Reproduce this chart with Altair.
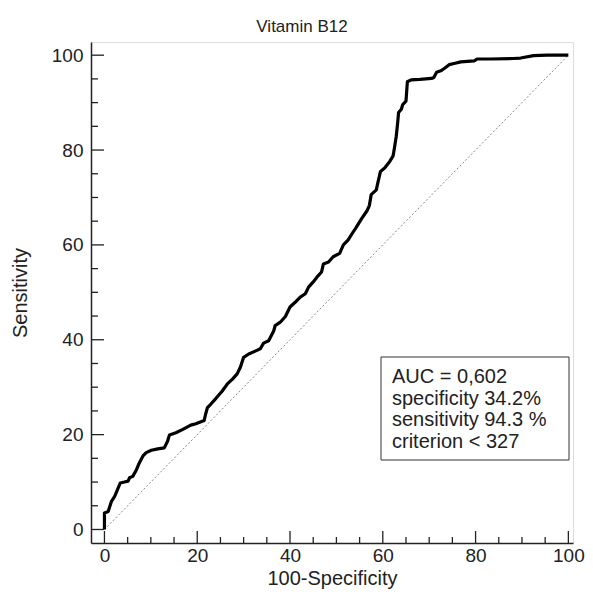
import altair as alt
import pandas as pd

# ROC curve points: 100-Specificity (x) and Sensitivity (y)
roc_x = [0, 0, 0.8, 1.5, 2.2, 2.9, 3.4, 4.3, 5.1, 5.4, 6.1, 6.9, 7.4, 8.3, 9.0, 10.1,
         11.5, 12.9, 13.6, 14.0, 15.4, 16.9, 18.6, 19.7, 21.5, 21.8, 22.2, 22.9, 24.0,
         25.4, 26.5, 27.6, 28.6, 29.3, 30.0, 31.1, 32.5, 33.6, 34.3, 35.4, 36.5, 36.8,
         37.9, 39.0, 40.0, 41.1, 42.2, 43.3, 44.0, 45.0, 45.8, 46.8, 47.2, 48.3, 49.3,
         50.7, 51.5, 52.5, 53.4, 54.2, 55.4, 56.6, 57.1, 57.5, 58.6, 59.0, 59.5, 60.4,
         61.5, 62.2, 62.5, 62.9, 63.2, 63.4, 64.0, 64.3, 65.0, 65.3, 66.1, 68.0, 70.5,
         71.0, 71.6, 72.5, 73.4, 74.3, 75.6, 76.8, 79.7, 80.4, 83.2, 88.2, 89.7, 92.5,
         95.4, 100]
roc_y = [0, 3.5, 3.8, 5.9, 7.0, 8.6, 9.8, 10.0, 10.2, 10.9, 11.2, 12.6, 13.8, 15.5, 16.2, 16.7,
         17.0, 17.2, 18.6, 19.9, 20.4, 21.1, 22.0, 22.3, 23.0, 24.3, 25.7, 26.4, 27.6,
         29.2, 30.7, 31.7, 32.8, 34.2, 36.3, 37.0, 37.6, 38.1, 39.3, 39.8, 41.9, 43.0,
         43.7, 44.9, 46.9, 47.9, 49.0, 49.7, 51.1, 52.2, 53.2, 54.3, 56.0, 56.4, 57.5,
         58.2, 60.0, 61.0, 62.4, 63.6, 65.5, 67.2, 68.3, 70.6, 71.6, 73.4, 75.5, 76.2,
         77.6, 78.7, 80.4, 82.9, 85.7, 87.9, 88.6, 89.6, 90.3, 94.4, 94.8, 94.9, 95.1,
         95.3, 96.4, 96.7, 97.3, 98.0, 98.3, 98.6, 98.8, 99.2, 99.2, 99.3, 99.4, 99.9,
         100, 100]

diag_x = [0, 100]
diag_y = [0, 100]

major_ticks = [0, 20, 40, 60, 80, 100]
minor_ticks = [5, 10, 15, 25, 30, 35, 45, 50, 55, 65, 70, 75, 85, 90, 95]

legend_lines = ["AUC = 0,602", "specificity 34.2%", "sensitivity 94.3 %", "criterion < 327"]

FONT = "Liberation Sans"
W, H = 482, 501
XD = [-2.9, 101.0]
YD = [-2.85, 102.78]

roc = pd.DataFrame({"x": roc_x, "y": roc_y, "i": range(len(roc_x))})
diag = pd.DataFrame({"x": diag_x, "y": diag_y})
maj = pd.DataFrame({"v": major_ticks})
mnr = pd.DataFrame({"v": minor_ticks})

xs = alt.Scale(domain=XD, nice=False, zero=False)
ys = alt.Scale(domain=YD, nice=False, zero=False)

xaxis = alt.Axis(values=major_ticks, tickSize=0, grid=False, domainColor="#222",
                 domainWidth=1.5, labelFont=FONT, labelFontSize=19, labelColor="#222",
                 labelPadding=3, title="100-Specificity", titleFont=FONT,
                 titleFontSize=20, titleFontWeight="normal", titleColor="#222",
                 titlePadding=3, labelFlush=False)
yaxis = alt.Axis(values=major_ticks, tickSize=0, grid=False, domainColor="#222",
                 domainWidth=1.5, labelFont=FONT, labelFontSize=19, labelColor="#222",
                 labelPadding=8, title="Sensitivity", titleFont=FONT,
                 titleFontSize=20, titleFontWeight="normal", titleColor="#222",
                 titlePadding=21, labelFlush=False)

diag_line = alt.Chart(diag).mark_line(color="#888", strokeWidth=1, strokeDash=[2, 2]).encode(
    x=alt.X("x:Q", scale=xs, axis=xaxis),
    y=alt.Y("y:Q", scale=ys, axis=yaxis),
)

curve = alt.Chart(roc).mark_line(color="#000", strokeWidth=3.2, strokeJoin="round").encode(
    x=alt.X("x:Q", scale=xs),
    y=alt.Y("y:Q", scale=ys),
    order="i:Q",
)

xt_major = alt.Chart(maj).mark_rule(color="#222", strokeWidth=1.3).encode(
    x=alt.X("v:Q", scale=xs), y=alt.value(H), y2=alt.value(H - 12))
xt_minor = alt.Chart(mnr).mark_rule(color="#222", strokeWidth=1.3).encode(
    x=alt.X("v:Q", scale=xs), y=alt.value(H), y2=alt.value(H - 6))
yt_major = alt.Chart(maj).mark_rule(color="#222", strokeWidth=1.3).encode(
    y=alt.Y("v:Q", scale=ys), x=alt.value(0), x2=alt.value(13))
yt_minor = alt.Chart(mnr).mark_rule(color="#222", strokeWidth=1.3).encode(
    y=alt.Y("v:Q", scale=ys), x=alt.value(0), x2=alt.value(7))

box = alt.Chart(maj.head(1)).mark_rect(fill="white", stroke="#333", strokeWidth=1).encode(
    x=alt.value(290), x2=alt.value(478), y=alt.value(315), y2=alt.value(418))

legend_text = alt.Chart(maj.head(1)).mark_text(
    text=legend_lines, align="left", baseline="middle", font=FONT, fontSize=20,
    color="#222", lineHeight=21.7).encode(x=alt.value(301), y=alt.value(335))

chart = alt.layer(diag_line, curve, xt_major, xt_minor, yt_major, yt_minor, box, legend_text).properties(
    width=W, height=H,
    title=alt.TitleParams("Vitamin B12", font=FONT, fontSize=17, fontWeight="normal",
                          color="#222", anchor="middle", dx=-30, offset=6),
    autosize=alt.AutoSizeParams(type="none"),
    padding={"left": 83, "top": 34, "right": 12, "bottom": 46},
).configure_view(stroke=None).configure(background="white")

chart.save("out.html", embed_options={"renderer": "svg", "actions": False})
